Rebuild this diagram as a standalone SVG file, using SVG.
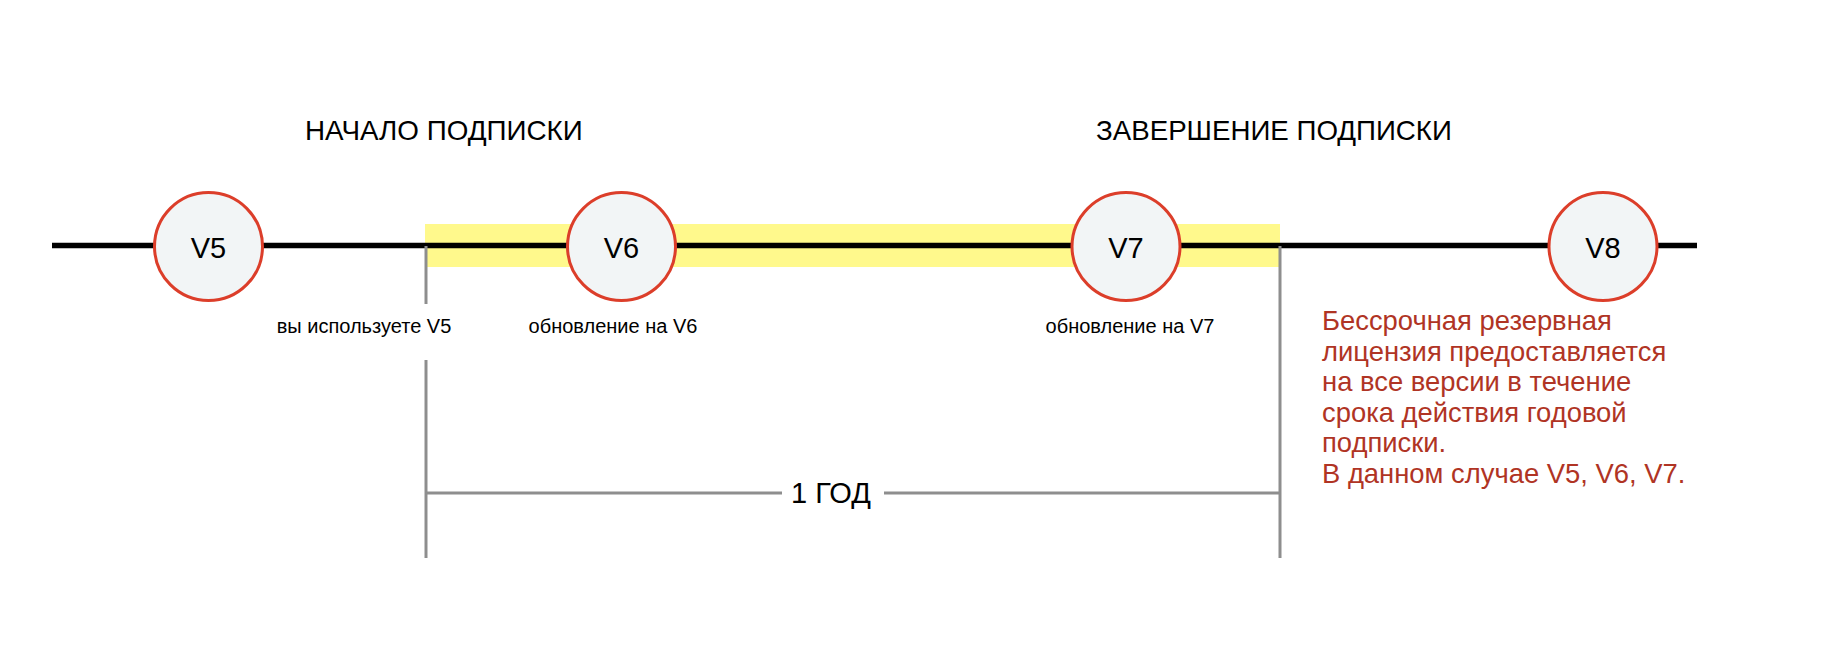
<svg xmlns="http://www.w3.org/2000/svg" width="1846" height="664" viewBox="0 0 1846 664">
<style>
.t{font-family:"Liberation Sans",Arial,sans-serif;fill:#000}
.node circle{fill:#F2F5F6;stroke:#DC3E2A;stroke-width:3}
.node text{font-family:"Liberation Sans",Arial,sans-serif;font-size:29px;fill:#000;text-anchor:middle}
.gray{stroke:#8E8E8E;stroke-width:3;fill:none}
.red{font-family:"Liberation Sans",Arial,sans-serif;font-size:27.4px;fill:#B03424}
</style>
<rect width="1846" height="664" fill="#fff"/>
<rect x="425" y="224" width="855" height="43" fill="#FFF98C"/>
<g id="connectors">
<line x1="52" y1="245.5" x2="1697" y2="245.5" stroke="#000" stroke-width="5.5"/>
<line class="gray" x1="426" y1="246" x2="426" y2="304"/>
<line class="gray" x1="426" y1="360" x2="426" y2="558"/>
<line class="gray" x1="1280" y1="246" x2="1280" y2="558"/>
<line class="gray" x1="426" y1="493" x2="782" y2="493"/>
<line class="gray" x1="884" y1="493" x2="1280" y2="493"/>
</g>
<text class="t" x="305" y="140" font-size="27.8">НАЧАЛО ПОДПИСКИ</text>
<text class="t" x="1096" y="140" font-size="27.7">ЗАВЕРШЕНИЕ ПОДПИСКИ</text>
<g id="v5" class="node"><circle cx="208.5" cy="246.5" r="54"/><text x="208.5" y="257.5">V5</text></g>
<g id="v6" class="node"><circle cx="621.5" cy="246.5" r="54"/><text x="621.5" y="257.5">V6</text></g>
<g id="v7" class="node"><circle cx="1126" cy="246.5" r="54"/><text x="1126" y="257.5">V7</text></g>
<g id="v8" class="node"><circle cx="1603" cy="246.5" r="54"/><text x="1603" y="257.5">V8</text></g>
<text class="t" x="364" y="333" font-size="20" text-anchor="middle">вы используете V5</text>
<text class="t" x="613" y="333" font-size="20" text-anchor="middle">обновление на V6</text>
<text class="t" x="1130" y="333" font-size="20" text-anchor="middle">обновление на V7</text>
<text class="t" x="831" y="503" font-size="29" text-anchor="middle">1 ГОД</text>
<text class="red" x="1322" y="330">
<tspan x="1322" y="330">Бессрочная резервная</tspan>
<tspan x="1322" y="360.5">лицензия предоставляется</tspan>
<tspan x="1322" y="391">на все версии в течение</tspan>
<tspan x="1322" y="421.5">срока действия годовой</tspan>
<tspan x="1322" y="452">подписки.</tspan>
<tspan x="1322" y="482.5">В данном случае V5, V6, V7.</tspan>
</text>
</svg>
